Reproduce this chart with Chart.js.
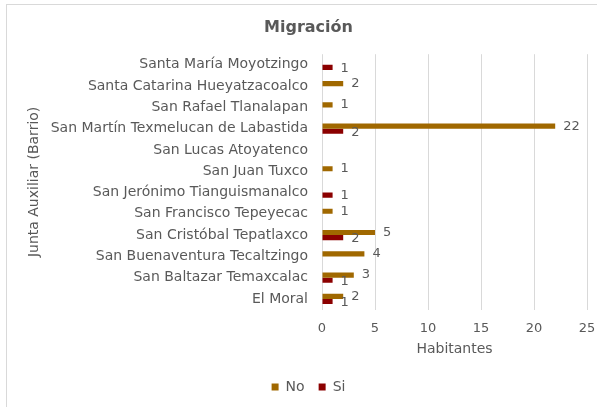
<!DOCTYPE html>
<html>
<head>
<meta charset="utf-8">
<script src="https://cdn.jsdelivr.net/npm/chart.js@4/dist/chart.umd.min.js"></script>
<style>
  html, body { margin: 0; padding: 0; background: #fff; overflow: hidden; }
  #wrap { position: relative; width: 597px; height: 407px; }
  #frame { position: absolute; left: 6px; top: 4px; width: 600px; height: 410px; border: 1px solid #d9d9d9; pointer-events: none; }
</style>
</head>
<body>
<div id="wrap">
  <div id="frame"></div>
  <canvas id="chart" width="597" height="407"></canvas>
</div>
<script>
// barrios, de arriba hacia abajo
const barrios = [
  "Santa María Moyotzingo",
  "Santa Catarina Hueyatzacoalco",
  "San Rafael Tlanalapan",
  "San Martín Texmelucan de Labastida",
  "San Lucas Atoyatenco",
  "San Juan Tuxco",
  "San Jerónimo Tianguismanalco",
  "San Francisco Tepeyecac",
  "San Cristóbal Tepatlaxco",
  "San Buenaventura Tecaltzingo",
  "San Baltazar Temaxcalac",
  "El Moral"
];
const migracionNo = [null, 2, 1, 22, null, 1, null, 1, 5, 4, 3, 2];
const migracionSi = [1, null, null, 2, null, null, 1, null, 2, null, 1, 1];
const xTicks = [0, 5, 10, 15, 20, 25];

const FONT = "'DejaVu Sans', sans-serif";
const GRAY = "#595959";

const valueLabels = {
  id: "valueLabels",
  afterDatasetsDraw(chart) {
    const ctx = chart.ctx;
    ctx.save();
    ctx.font = "13px " + FONT;
    ctx.fillStyle = GRAY;
    ctx.textAlign = "left";
    ctx.textBaseline = "middle";
    chart.data.datasets.forEach((ds, i) => {
      const meta = chart.getDatasetMeta(i);
      meta.data.forEach((bar, j) => {
        const v = ds.data[j];
        if (v === null || v === undefined) return;
        ctx.fillText(String(v), bar.x + 8, bar.y + (i === 1 ? 1 : 0));
      });
    });
    ctx.restore();
  }
};

new Chart(document.getElementById("chart"), {
  type: "bar",
  data: {
    labels: barrios,
    datasets: [
      { label: "No", data: migracionNo, backgroundColor: "#a06800", categoryPercentage: 0.48, barPercentage: 1 },
      { label: "Si", data: migracionSi, backgroundColor: "#8b0000", categoryPercentage: 0.48, barPercentage: 1 }
    ]
  },
  options: {
    indexAxis: "y",
    responsive: false,
    animation: false,
    layout: { padding: { left: 20, right: 0, top: 0, bottom: 3 } },
    plugins: {
      title: {
        display: true,
        text: "Migración",
        color: GRAY,
        font: { family: FONT, size: 16, weight: "bold" },
        padding: { top: 18, bottom: 17 }
      },
      legend: {
        position: "bottom",
        labels: {
          color: GRAY,
          font: { family: FONT, size: 14 },
          boxWidth: 7,
          boxHeight: 7,
          padding: 14
        }
      },
      tooltip: { enabled: false }
    },
    scales: {
      x: {
        min: 0,
        max: 25,
        afterBuildTicks: (scale) => { scale.ticks = xTicks.map((v) => ({ value: v })); },
        afterFit: (scale) => { scale.paddingRight = 10; },
        grid: { color: "#d9d9d9", drawTicks: false },
        border: { display: false },
        ticks: { color: GRAY, font: { family: FONT, size: 13 }, padding: 11 },
        title: { display: true, text: "Habitantes", color: GRAY, font: { family: FONT, size: 14 }, padding: { top: -6, bottom: 8 } }
      },
      y: {
        grid: { display: false },
        border: { display: false },
        ticks: { color: GRAY, font: { family: FONT, size: 14 }, padding: 6 },
        title: { display: true, text: "Junta Auxiliar (Barrio)", color: GRAY, font: { family: FONT, size: 14 }, padding: { top: 6, bottom: 0 } },
        afterFit: (scale) => { scale.width = 302; }
      }
    }
  },
  plugins: [valueLabels]
});
</script>
</body>
</html>
